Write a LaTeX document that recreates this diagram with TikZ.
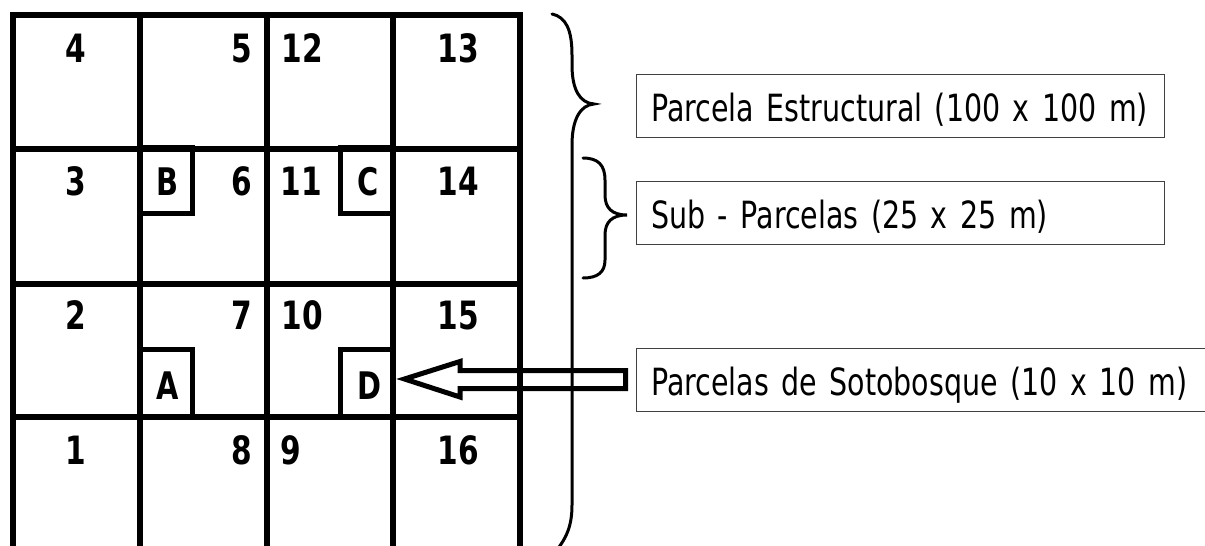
\documentclass[tikz,border=0pt]{standalone}
\usepackage{fontspec}
\setmainfont[FakeStretch=0.76]{DejaVu Sans}
\begin{document}
\begin{tikzpicture}[x=1pt,y=-1pt,
  gridline/.style={line width=5.4pt,black,line cap=butt},
  outerline/.style={line width=6.4pt,black},
  subbox/.style={line width=5pt,black,miter limit=10},
  cell/.style={font=\bfseries\fontsize{39}{40}\selectfont,anchor=base,inner sep=0pt},
  letter/.style={font=\bfseries\fontsize{38}{40}\selectfont,anchor=base,inner sep=0pt},
  legend/.style={draw=black!75,line width=1.2pt,anchor=north west,text height=46.5pt,text depth=16.5pt,inner xsep=14.5pt,inner ysep=0pt,text width=#1,align=left,font=\fontsize{37.5}{42}\selectfont,text=black},
  bracestyle/.style={line width=3pt,black,line cap=round}]
\useasboundingbox (0,0) rectangle (1205,546);
\clip (0,0) rectangle (1205,546);
\fill[white] (0,0) rectangle (1205,546);
% grid
\foreach \yy in {149,284,417} \draw[gridline] (12,\yy) -- (520,\yy);
\draw[outerline] (10,15) -- (523,15);
\foreach \xx in {140,267,393} \draw[gridline] (\xx,15) -- (\xx,546);
\draw[outerline] (13,12) -- (13,546);
\draw[outerline] (520,12) -- (520,546);
% small plots
\draw[subbox] (140,147) -- (192.5,147) -- (192.5,213.5) -- (140,213.5);
\draw[subbox] (393,147) -- (340.5,147) -- (340.5,213.5) -- (393,213.5);
\draw[subbox] (140,349.5) -- (192.5,349.5) -- (192.5,417);
\draw[subbox] (393,349.5) -- (340.5,349.5) -- (340.5,417);
% cell numbers
\node[cell] (n4)  at (76,62) {4};
\node[cell] (n5)  at (242,62) {5};
\node[cell] (n12) at (302,62) {12};
\node[cell] (n13) at (458,62) {13};
\node[cell] (n3)  at (76,195) {3};
\node[cell] (n6)  at (242,195) {6};
\node[cell] (n11) at (301,195) {11};
\node[cell] (n14) at (458,195) {14};
\node[cell] (n2)  at (76,329) {2};
\node[cell] (n7)  at (242,329) {7};
\node[cell] (n10) at (302,329) {10};
\node[cell] (n15) at (458,329) {15};
\node[cell] (n1)  at (76,464) {1};
\node[cell] (n8)  at (242,464) {8};
\node[cell] (n9)  at (290.5,464) {9};
\node[cell] (n16) at (458,464) {16};
\node[letter] (pB) at (168,195) {B};
\node[letter] (pC) at (368,195) {C};
\node[letter] (pA) at (168,399) {A};
\node[letter] (pD) at (369,399) {D};
% legends
\node[legend=499pt] (estr) at (636,74) {Parcela Estructural (100 x 100 m)};
\node[legend=499pt] (sub)  at (636,181) {Sub - Parcelas (25 x 25 m)};
\node[legend=570pt] (soto) at (636,348) {Parcelas de Sotobosque (10 x 10 m)};
% braces
\coordinate (bigtip) at (594,104);
\coordinate (smalltip) at (627,215);
\draw[bracestyle] (552,14) .. controls (566,17) and (572,30) .. (572,55)
  -- (572,65) .. controls (572,90) and (580,103) .. (bigtip)
  .. controls (580,105) and (572,120) .. (572,145)
  -- (572,505) .. controls (572,525) and (567,538) .. (555,552);
\draw[bracestyle] (583,158) .. controls (598,158) and (605,165) .. (605,180)
  -- (605,195) .. controls (605,208) and (612,215) .. (smalltip)
  .. controls (612,215) and (605,222) .. (605,235)
  -- (605,260) .. controls (605,272) and (598,278) .. (583,278);
% block arrow
\draw[line width=5pt,black,miter limit=10] (soto.west |- 0,370.5) ++(-10.5,0) coordinate (ar1)
  -- (460,370.5) -- (460,361.5) -- (404.5,379) -- (460,397) -- (460,388.5)
  -- (625.5,388.5) -- cycle;
\end{tikzpicture}
\end{document}
